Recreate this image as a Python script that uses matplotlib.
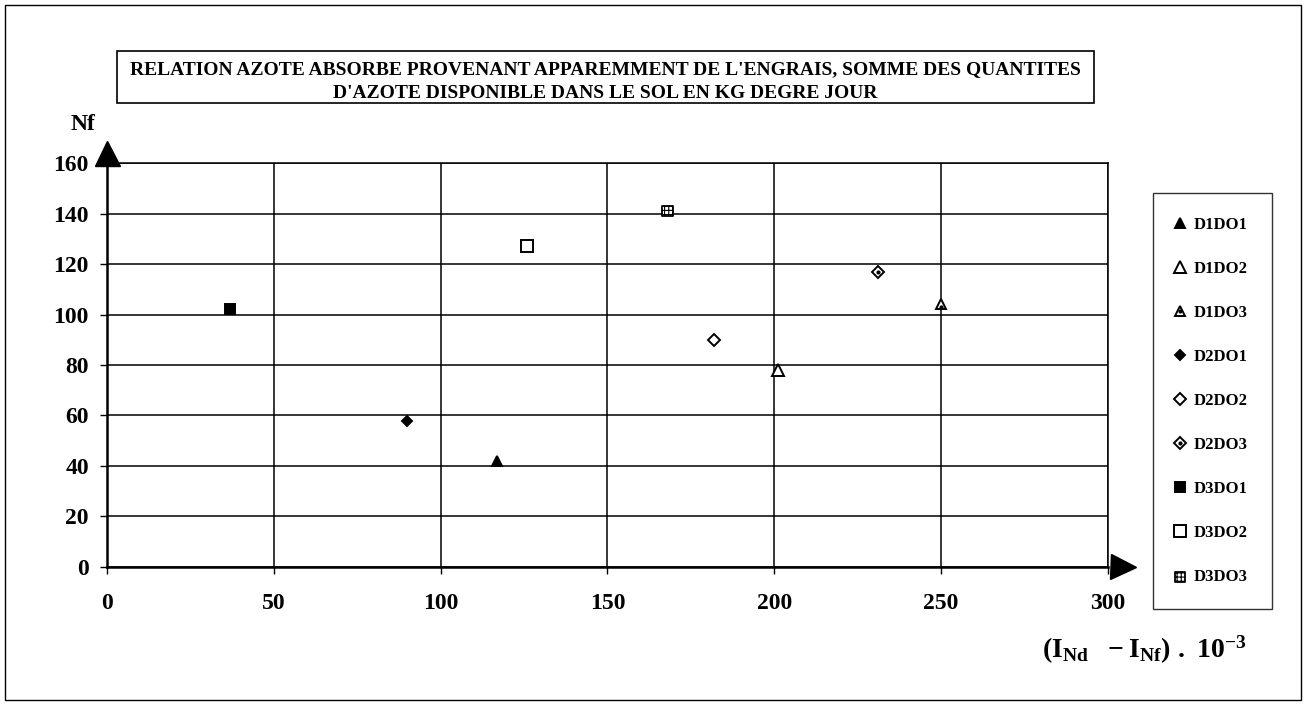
import matplotlib
matplotlib.use("Agg")
import matplotlib.pyplot as plt
from matplotlib.patches import Rectangle
from matplotlib.transforms import offset_copy
from matplotlib.legend_handler import HandlerTuple

plt.rcParams["font.family"] = ["Liberation Serif", "DejaVu Serif"]
plt.rcParams["font.weight"] = "bold"
plt.rcParams["mathtext.fontset"] = "custom"
plt.rcParams["mathtext.rm"] = "Liberation Serif:bold"
plt.rcParams["mathtext.bf"] = "Liberation Serif:bold"
plt.rcParams["mathtext.it"] = "Liberation Serif:bold"
plt.rcParams["hatch.linewidth"] = 0.8

# data
series = ["D1DO1", "D1DO2", "D1DO3", "D2DO1", "D2DO2", "D2DO3", "D3DO1", "D3DO2", "D3DO3"]
x_vals = [117, 201, 250, 90, 182, 231, 37, 126, 168]
y_vals = [42, 78, 104, 58, 90, 117, 102, 127, 141]

x_ticks = [0, 50, 100, 150, 200, 250, 300]
y_ticks = [0, 20, 40, 60, 80, 100, 120, 140, 160]

title = ("RELATION AZOTE ABSORBE PROVENANT APPAREMMENT DE L'ENGRAIS, SOMME DES QUANTITES\n"
         "D'AZOTE DISPONIBLE DANS LE SOL EN KG DEGRE JOUR")

# marker style per series: (marker, face, size, inner dot, hatch)
styles = {
    "D1DO1": ("^", "black", 7, False, None),
    "D1DO2": ("^", "white", 8, False, None),
    "D1DO3": ("^", "white", 7, True, None),
    "D2DO1": ("D", "black", 5.5, False, None),
    "D2DO2": ("D", "white", 6, False, None),
    "D2DO3": ("D", "white", 6, True, None),
    "D3DO1": ("s", "black", 7, False, None),
    "D3DO2": ("s", "white", 8, False, None),
    "D3DO3": ("s", "white", 7.5, False, "++++"),
}

fig = plt.figure(figsize=(13.05, 7.06), dpi=100)
ax = fig.add_axes([0.082, 0.197, 0.767, 0.572])

handles = []
for name, xv, yv in zip(series, x_vals, y_vals):
    m, fc, ms, dot, hatch = styles[name]
    if hatch:
        h = ax.scatter([xv], [yv], marker=m, s=ms ** 2, facecolor="white",
                       edgecolor="black", linewidth=1.3, hatch=hatch, zorder=5)
        handles.append(h)
        continue
    h, = ax.plot([xv], [yv], linestyle="none", marker=m, markersize=ms,
                 markerfacecolor=fc, markeredgecolor="black", markeredgewidth=1.4, zorder=5)
    if dot:
        d, = ax.plot([xv], [yv - (1.2 if m == "^" else 0)], linestyle="none", marker="o",
                     markersize=2, color="black", zorder=6)
        handles.append((h, d))
    else:
        handles.append(h)

ax.set_xlim(0, 300)
ax.set_ylim(0, 160)
ax.set_xticks(x_ticks)
ax.set_yticks(y_ticks)
ax.tick_params(axis="both", labelsize=17, length=5, width=1, color="black")
ax.tick_params(axis="y", pad=8)
ax.tick_params(axis="x", pad=14)
for lab in ax.get_xticklabels() + ax.get_yticklabels():
    lab.set_fontweight("bold")
ax.grid(True, color="black", linewidth=1.1)
ax.set_axisbelow(True)
for sp in ax.spines.values():
    sp.set_linewidth(1.1)
ax.spines["left"].set_linewidth(1.8)
ax.spines["bottom"].set_linewidth(1.8)

# axis arrows
tr_up = offset_copy(ax.transAxes, fig=fig, x=0, y=7, units="points")
ax.plot([0], [1], marker="^", markersize=18, color="black", transform=tr_up, clip_on=False)
tr_right = offset_copy(ax.transAxes, fig=fig, x=11, y=0, units="points")
ax.plot([1], [0], marker=">", markersize=18, color="black", transform=tr_right, clip_on=False)

fig.text(0.054, 0.824, "Nf", fontsize=17, fontweight="bold", ha="left", va="center")
fig.text(0.877, 0.079, r"$\mathbf{(I_{Nd}\ \ -I_{Nf})\ .\ 10^{-3}}$",
         fontsize=20, ha="center", va="center")

# title box
fig.patches.append(Rectangle((0.090, 0.854), 0.748, 0.074, transform=fig.transFigure,
                             facecolor="white", edgecolor="black", linewidth=1.2))
fig.text(0.464, 0.8846, title, fontsize=14, fontweight="bold", ha="center", va="center",
         linespacing=1.6)

# outer frame
fig.patches.append(Rectangle((0.004, 0.008), 0.993, 0.985, transform=fig.transFigure,
                             fill=False, edgecolor="black", linewidth=1.0))

leg = fig.legend(handles, series, loc="upper left", bbox_to_anchor=(0.8835, 0.7266),
                 frameon=True, fancybox=False, edgecolor="black", fontsize=12,
                 labelspacing=1.68, borderpad=1.45, handlelength=0.35, handletextpad=0.65,
                 borderaxespad=0,
                 handler_map={tuple: HandlerTuple(ndivide=1)})
leg.get_frame().set_linewidth(1.0)
for t in leg.get_texts():
    t.set_fontweight("bold")

fig.savefig("out.png", dpi=100)
